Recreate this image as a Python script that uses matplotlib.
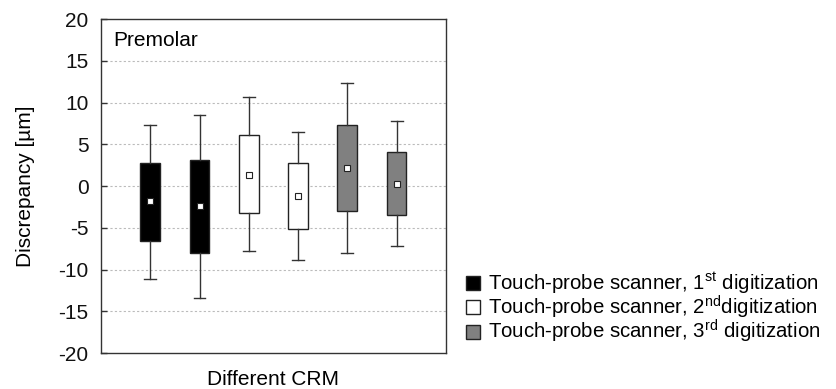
import matplotlib
matplotlib.use("Agg")
import matplotlib.pyplot as plt
from matplotlib.lines import Line2D

plt.rcParams['font.family'] = ['Liberation Sans', 'DejaVu Sans']
plt.rcParams['mathtext.fontset'] = 'custom'
plt.rcParams['mathtext.rm'] = 'Liberation Sans'

# data
q1 = [-6.6, -8.0, -3.25, -5.1, -3.0, -3.5]
q3 = [2.8, 3.1, 6.1, 2.7, 7.3, 4.1]
whislo = [-11.1, -13.4, -7.8, -8.9, -8.0, -7.2]
whishi = [7.3, 8.5, 10.7, 6.5, 12.3, 7.8]
means = [-1.85, -2.45, 1.3, -1.25, 2.15, 0.3]
groups = [0, 0, 1, 1, 2, 2]
group_colors = ['#000000', '#ffffff', '#808080']
legend_labels = [r"Touch-probe scanner, 1$^{\mathrm{st}}$ digitization",
                 r"Touch-probe scanner, 2$^{\mathrm{nd}}$digitization",
                 r"Touch-probe scanner, 3$^{\mathrm{rd}}$ digitization"]
yticks = [-20, -15, -10, -5, 0, 5, 10, 15, 20]

fig = plt.figure(figsize=(8.37, 3.89), dpi=100)
ax = fig.add_axes([0.1207, 0.0925, 0.412, 0.8585])

stats = []
for i in range(len(q1)):
    stats.append(dict(q1=q1[i], q3=q3[i], whislo=whislo[i], whishi=whishi[i],
                      med=means[i], mean=means[i], fliers=[]))
pos = list(range(1, len(q1) + 1))
bp = ax.bxp(stats, positions=pos, widths=0.4, patch_artist=True, showmeans=True,
            showfliers=False,
            boxprops=dict(edgecolor='#222222', linewidth=1.0),
            whiskerprops=dict(color='#333333', linewidth=1.0),
            capprops=dict(color='#333333', linewidth=1.0),
            medianprops=dict(linewidth=0),
            meanprops=dict(marker='s', markersize=4.5, markerfacecolor='white',
                           markeredgecolor='#222222', markeredgewidth=0.8),
            capwidths=0.24)
for patch, g in zip(bp['boxes'], groups):
    patch.set_facecolor(group_colors[g])

ax.set_xlim(0.0, 7.0)
ax.set_ylim(-20, 20)
ax.set_yticks(yticks)
ax.set_yticklabels([str(t) for t in yticks], fontsize=15)
ax.set_xticks([])
for t in [-15, -10, -5, 0, 5, 10, 15]:
    ax.axhline(t, color='#bbbbbb', linestyle=(0, (2, 2)), linewidth=0.8, zorder=0)
ax.tick_params(axis='y', direction='in', length=4, width=1, colors='#333333',
               labelcolor='#111111', pad=9)
for s in ax.spines.values():
    s.set_color('#333333')
    s.set_linewidth(1.0)
ax.set_ylabel('Discrepancy [µm]', fontsize=15, labelpad=17)
ax.set_xlabel('Different CRM', fontsize=15, labelpad=12)
ax.text(0.035, 0.965, 'Premolar', transform=ax.transAxes, fontsize=15,
        va='top', ha='left')

handles = [Line2D([], [], linestyle='none', marker='s', markersize=10,
                  markerfacecolor=c, markeredgecolor='#222222', markeredgewidth=1.0)
           for c in group_colors]
fig.legend(handles, legend_labels, loc='upper left', bbox_to_anchor=(0.556, 0.305),
           frameon=False, fontsize=14.7, handlelength=0.7, handletextpad=0.4,
           labelspacing=-0.12, borderaxespad=0, borderpad=0)

fig.savefig('out.png', dpi=100)
